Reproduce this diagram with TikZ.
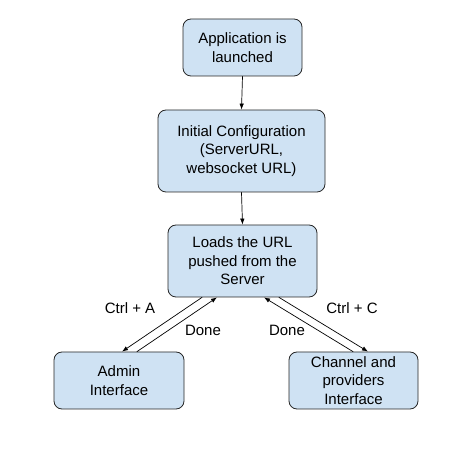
\documentclass[tikz,border=0pt]{standalone}
\usepackage{fontspec}
\setmainfont{Liberation Sans}
\usetikzlibrary{arrows.meta}

\begin{document}
\begin{tikzpicture}
[x=1pt,y=-1pt,line cap=round,>={Latex[length=6pt,width=4.5pt]},
% Styles
step box/.style={draw=black!85,fill=boxcolor,rounded corners=8pt,line width=0.8pt,
  align=center,inner sep=2pt,font=\fontsize{15}{18.5}\selectfont},
flow line/.style={->,line width=0.7pt},
key text/.style={font=\fontsize{15}{18}\selectfont}]
% Colors
\definecolor{boxcolor}{HTML}{CFE2F3}

% The graphic
\useasboundingbox (0,0) rectangle (475,473);
\node[step box,minimum width=119pt,minimum height=57pt] (launch) at (242.5,47.5)
  {Application is\\launched};
\node[step box,minimum width=167pt,minimum height=82pt] (config) at (241.5,151)
  {Initial Configuration\\(ServerURL,\\websocket URL)};
\node[step box,minimum width=149pt,minimum height=72pt] (load) at (242.5,261)
  {Loads the URL\\pushed from the\\Server};
\node[step box,minimum width=130pt,minimum height=57pt] (admin) at (119,380.5)
  {Admin\\Interface};
\node[step box,minimum width=129pt,minimum height=57pt] (channel) at (353.5,380.5)
  {Channel and\\providers\\Interface};

\draw[flow line] (launch.south) -- (config.north);
\draw[flow line] (config.south) -- (load.north);
\draw[flow line] ([xshift=-40.5pt]load.south) -- ([xshift=3pt]admin.north);
\draw[flow line] ([xshift=18pt]admin.north) -- ([xshift=-25.5pt]load.south);
\draw[flow line] ([xshift=-0.5pt]channel.north) -- ([xshift=21.5pt]load.south);
\draw[flow line] ([xshift=36.5pt]load.south) -- ([xshift=14.5pt]channel.north);

\node[key text] (ctrla) at (130,308) {Ctrl + A};
\node[key text] (doneadmin) at (203,330) {Done};
\node[key text] (donechannel) at (287,330) {Done};
\node[key text] (ctrlc) at (352,308) {Ctrl + C};
\end{tikzpicture}
\end{document}
